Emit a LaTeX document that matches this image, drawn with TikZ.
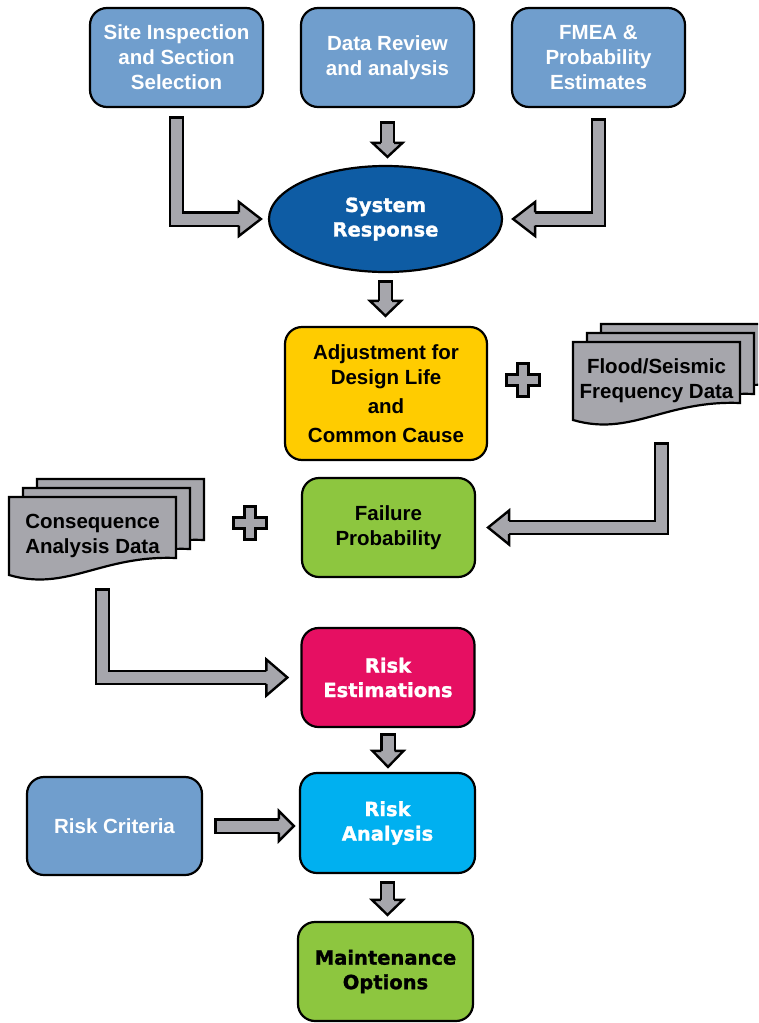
\documentclass[tikz,border=0pt]{standalone}
\usepackage{fontspec}
\setmainfont{Liberation Sans}
\newfontfamily\heavyfont[BoldFeatures={FakeBold=1.3}]{DejaVu Sans}
\usetikzlibrary{shapes,calc}
\definecolor{boxblue}{RGB}{112,158,205}
\definecolor{sysblue}{RGB}{14,92,164}
\definecolor{adjgold}{RGB}{255,204,0}
\definecolor{leafgreen}{RGB}{141,198,63}
\definecolor{riskred}{RGB}{230,15,98}
\definecolor{riskcyan}{RGB}{0,176,240}
\definecolor{arrowgray}{RGB}{166,166,172}
\tikzset{
    box/.style={draw, line width=2.2pt, rounded corners=17pt, align=center, inner sep=0pt,
                minimum width=173pt, minimum height=99pt, font=\bfseries\fontsize{20.5}{25}\selectfont},
    input/.style={box, fill=boxblue, text=white},
    adjbox/.style={box, fill=adjgold, minimum width=202pt, minimum height=133pt},
    greenbox/.style={box, fill=leafgreen},
    heavy/.style={font=\heavyfont\bfseries\fontsize{19.5}{24.5}\selectfont},
    riskbox/.style={box, heavy, text=white},
    sysnode/.style={ellipse, draw, line width=2.2pt, fill=sysblue, text=white, heavy, align=center,
                inner sep=0pt, minimum width=233pt, minimum height=106pt},
    doc/.style={minimum width=167pt, minimum height=78pt, inner sep=0pt, align=center,
                font=\bfseries\fontsize{20.5}{25}\selectfont},
    sheet/.style={draw, line width=2.2pt, fill=arrowgray, line join=miter},
    shaft/.style={draw=black, line width=2.4pt, double=arrowgray, double distance=11pt,
                line cap=rect, line join=miter},
    head/.style={draw=black, line width=2.4pt, fill=arrowgray, line join=miter},
    plus/.style={draw, line width=2.2pt, fill=arrowgray, line join=miter},
}
% tip, direction, length, half width
\newcommand\fathead[4]{%
    \draw[head, shift={#1}, rotate=#2] (-#3,6.7) -- (-#3,#4) -- (0,0) -- (-#3,-#4) -- (-#3,-6.7);}

\begin{document}
\begin{tikzpicture}[x=1pt, y=-1pt]
    \path[use as bounding box, fill=white] (0,0) rectangle (758,1023);
    \clip (0,0) rectangle (758,1023);

    % Inputs
    \node[input] (site) at (176.5,57.5) {Site Inspection\\and Section\\Selection};
    \node[input] (data) at (387.5,57.5) {Data Review\\and analysis};
    \node[input] (fmea) at (598.5,57.5) {FMEA \&\\Probability\\Estimates};
    \node[sysnode] (sys) at (385.5,219) {System\\Response};

    \draw[shaft] ($(site.south)+(0,16)$) |- ($(sys.west)+(-33,0)$);
    \fathead{($(sys.west)+(-7,0)$)}{0}{22}{17}
    \draw[shaft] ($(data.south)+(0,21)$) -- ($(data.south |- sys.north)+(0,-26)$);
    \fathead{($(data.south |- sys.north)+(0,-8)$)}{-90}{14}{15}
    \draw[shaft] ($(fmea.south)+(0,18)$) |- ($(sys.east)+(36,0)$);
    \fathead{($(sys.east)+(10,0)$)}{180}{22}{17}

    % Probability
    \node[adjbox] (adj) at (386,393.5) {Adjustment for\\Design Life\\[4pt]and\\[4pt]Common Cause};
    \draw[shaft] ($(sys.south)+(0,15)$) -- ($(sys.south |- adj.north)+(0,-29)$);
    \fathead{($(sys.south |- adj.north)+(0,-10)$)}{-90}{15}{15.5}

    % Data sheets
    \foreach \sx/\sy in {573/342, 9/497} {
        \foreach \dx/\dy in {28/18, 14/9, 0/0} {
            \draw[sheet, shift={(\sx+\dx,\sy-\dy)}] (0,0) -- (167,0) -- (167,61)
                .. controls (92,58) and (58,95) .. (0,78) -- cycle;
        }
    }
    \node[doc] (flood) at (656.5,381) {Flood/Seismic\\Frequency Data};
    \node[doc] (cons) at (92.5,536) {Consequence\\Analysis Data};

    \foreach \px/\py in {523/380, 250/523} {
        \draw[plus, shift={(\px,\py)}] (-5.5,-16.5) -- (5.5,-16.5) -- (5.5,-5.5) -- (16.5,-5.5)
            -- (16.5,5.5) -- (5.5,5.5) -- (5.5,16.5) -- (-5.5,16.5) -- (-5.5,5.5)
            -- (-16.5,5.5) -- (-16.5,-5.5) -- (-5.5,-5.5) -- cycle;
    }

    \node[greenbox] (fail) at (388.5,527.5) {Failure\\Probability};
    \draw[shaft] ($(flood.south)+(5,30)$) |- ($(fail.east)+(37,0)$);
    \fathead{($(fail.east)+(12,0)$)}{180}{21}{17}

    % Risk
    \node[riskbox, fill=riskred] (est) at (388,677.5) {Risk\\Estimations};
    \draw[shaft] ($(cons.south)+(10,21)$) |- ($(est.west)+(-38,0)$);
    \fathead{($(est.west)+(-13,0)$)}{0}{21}{18}

    \node[riskbox, fill=riskcyan, minimum width=175pt, minimum height=100pt] (ana) at (387.5,823) {Risk\\Analysis};
    \node[input, minimum width=175pt, minimum height=98pt] (crit) at (114.5,826) {Risk Criteria};
    \draw[shaft] ($(est.south)+(0,13)$) -- ($(est.south |- ana.north)+(0,-25)$);
    \fathead{($(est.south |- ana.north)+(0,-5)$)}{-90}{16}{15.5}
    \draw[shaft] ($(crit.east)+(19,0)$) -- ($(crit.east -| ana.west)+(-24,0)$);
    \fathead{($(crit.east -| ana.west)+(-5,0)$)}{0}{15}{15}

    \node[greenbox, heavy, minimum width=175pt] (maint) at (385.5,971.5) {Maintenance\\Options};
    \draw[shaft] ($(ana.south)+(0,15)$) -- ($(ana.south |- maint.north)+(0,-25)$);
    \fathead{($(ana.south |- maint.north)+(0,-6)$)}{-90}{15}{15.5}
\end{tikzpicture}
\end{document}
